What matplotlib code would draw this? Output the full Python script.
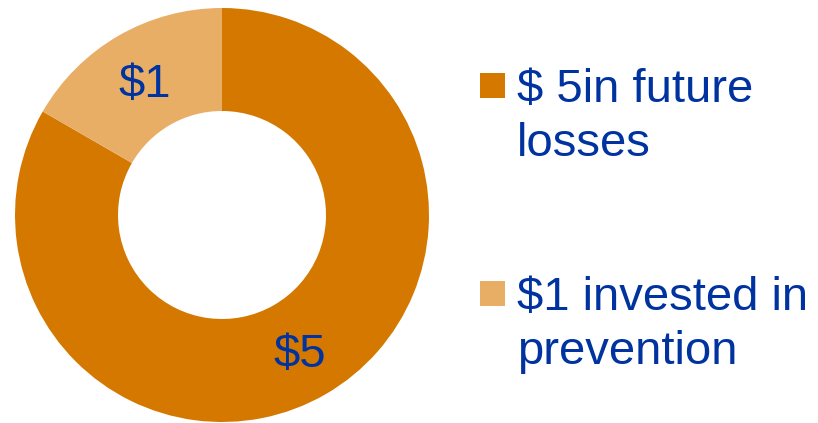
import matplotlib
matplotlib.use("Agg")
import matplotlib.pyplot as plt
from matplotlib.patches import Rectangle

# Data
slice_labels = ["$5", "$1"]
slice_values = [5, 1]
legend_labels = ["$ 5in future\nlosses", "$1 invested in\nprevention"]
colors = ["#D47800", "#E8AE66"]
text_color = "#0033A0"

plt.rcParams['font.family'] = ['Liberation Sans', 'DejaVu Sans']

W, H = 818, 423
fig = plt.figure(figsize=(W / 100, H / 100), dpi=100)
ax = fig.add_axes([0, 0, 1, 1])

cx, cy, R, R_in = 222, H - 215, 207, 104
wedges, texts = ax.pie(slice_values, labels=slice_labels, colors=colors,
                       startangle=90, counterclock=False, center=(cx, cy),
                       radius=R, labeldistance=(R + R_in) / 2 / R,
                       wedgeprops=dict(width=R - R_in, linewidth=0),
                       textprops=dict(fontsize=34, color=text_color),
                       frame=True)
for t in texts:
    x, y = t.get_position()
    t.set_ha('center')
    t.set_va('baseline')
    t.set_position((x, y - 17))
ax.set_xlim(0, W)
ax.set_ylim(0, H)
ax.set_aspect('equal')
ax.axis('off')

# Legend
sq_x, sq_size = 480, 25
tops = [73, 281]
baselines = [102, 310]
line_gap = 54
for lab, col, top, base in zip(legend_labels, colors, tops, baselines):
    ax.add_patch(Rectangle((sq_x, H - top - sq_size), sq_size, sq_size,
                           facecolor=col, edgecolor='none'))
    for k, line in enumerate(lab.split("\n")):
        ax.text(517, H - base - k * line_gap, line, fontsize=34,
                color=text_color, ha='left', va='baseline')

fig.savefig("out.png", dpi=100)
